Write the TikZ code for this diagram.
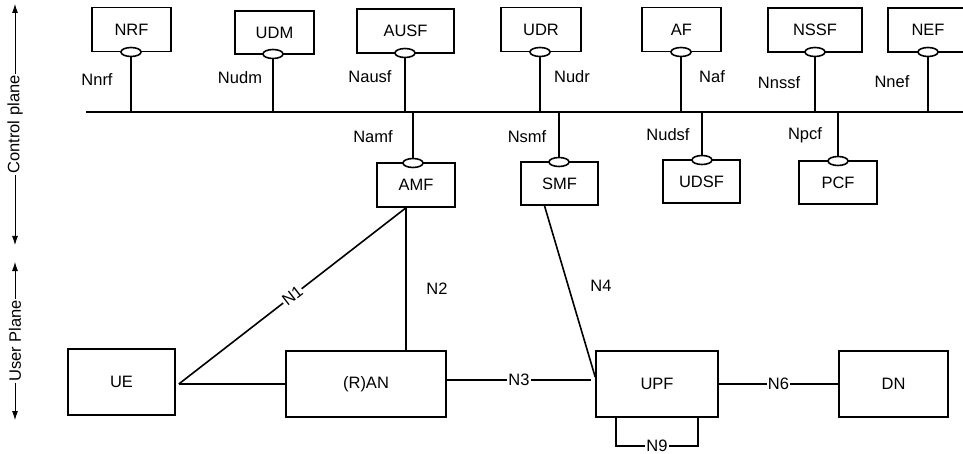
\documentclass[tikz,border=0pt]{standalone}
\usepackage{fontspec}
\setmainfont{Liberation Sans}
\usetikzlibrary{arrows.meta,calc,shapes.geometric}
\begin{document}
\begin{tikzpicture}[x=1pt,y=-1pt, line width=1.6pt,
  every node/.style={font=\fontsize{16.5}{19}\selectfont, inner sep=0pt},
  nf/.style={draw, rectangle, minimum width=#1, minimum height=44pt, line width=1.6pt},
  nf/.default=79pt,
  big/.style={draw, rectangle, minimum width=#1, minimum height=66pt, line width=1.6pt},
  port/.style={draw, ellipse, fill=white, minimum width=20pt, minimum height=9pt, line width=1.6pt},
  onl/.style={fill=white, inner sep=1pt},
  side/.style={line width=0.8pt, {Latex[length=9pt,width=6pt]}-{Latex[length=9pt,width=6pt]}}]
\useasboundingbox (0,0) rectangle (963,454);

% side arrows
\coordinate (cpT) at (15,4);
\coordinate (cpB) at (15,245);
\coordinate (upT) at (15,262);
\coordinate (upB) at (15,420);
\draw[side] (cpT) -- node[rotate=90, onl] {Control plane} (cpB);
\draw[side] (upT) -- node[rotate=90, onl] {User Plane} (upB);

% top NFs
\node[nf=79pt] (NRF) at (131.5,29.5) {NRF};
\node[nf=79pt, minimum height=43pt] (UDM) at (274.5,32.5) {UDM};
\node[nf=97pt] (AUSF) at (405.5,31) {AUSF};
\node[nf=80pt] (UDR) at (541,29.5) {UDR};
\node[nf=79pt] (AF) at (681.5,29.5) {AF};
\node[nf=94pt] (NSSF) at (815,30) {NSSF};
\node[nf=80pt] (NEF) at (928,30) {NEF};

% bus
\coordinate (busL) at (86,112);
\coordinate (busR) at (963,112);
\draw (busL) -- (busR);

% top ports
\node[port] (pNRF) at (131,52) {};
\node[port] (pUDM) at (273,54) {};
\node[port] (pAUSF) at (405,53) {};
\node[port] (pUDR) at (540,52) {};
\node[port] (pAF) at (681,52) {};
\node[port] (pNSSF) at (815,52) {};
\node[port] (pNEF) at (928,52) {};
\foreach \p in {pNRF,pUDM,pAUSF,pUDR,pAF,pNSSF,pNEF}
  \draw (\p) -- (\p |- busL);

% lower control NFs
\node[nf=78pt] (AMF) at (416,185) {AMF};
\node[nf=77pt, minimum height=43pt] (SMF) at (559.5,183.5) {SMF};
\node[nf=77pt, minimum height=43pt] (UDSF) at (701.5,181.5) {UDSF};
\node[nf=78pt, minimum height=43pt] (PCF) at (838,182.5) {PCF};
\node[port] (pAMF) at (413,163) {};
\node[port] (pSMF) at (559,162) {};
\node[port] (pUDSF) at (702,160) {};
\node[port] (pPCF) at (838,161) {};
\foreach \p in {pAMF,pSMF,pUDSF,pPCF}
  \draw (\p) -- (\p |- busL);

% interface labels
\node (lNnrf) at (97,80) {Nnrf};
\node (lNudm) at (240,78) {Nudm};
\node (lNausf) at (370,77) {Nausf};
\node (lNudr) at (572,77) {Nudr};
\node (lNaf) at (712,77) {Naf};
\node (lNnssf) at (779,83) {Nnssf};
\node (lNnef) at (892,82) {Nnef};
\node (lNamf) at (373,137) {Namf};
\node (lNsmf) at (527,137) {Nsmf};
\node (lNudsf) at (668,135) {Nudsf};
\node (lNpcf) at (805,135) {Npcf};

% user plane
\node[big=107pt] (UE) at (121.5,382) {UE};
\node[big=160pt] (RAN) at (366,384) {(R)AN};
\node[big=122pt] (UPF) at (657,384) {UPF};
\node[big=109pt] (DN) at (893.5,384) {DN};

\coordinate (amfb) at ([xshift=-10pt]AMF.south);
\coordinate (smfb) at ([xshift=-15pt]SMF.south);
\coordinate (uee) at ([xshift=3pt]UE.east |- RAN.west);

\draw (uee) -- node[sloped, onl] {N1} (amfb);
\draw (uee) -- (RAN.west);
\draw (amfb) -- (amfb |- RAN.north);
\node (lN2) at (437,289) {N2};
\draw ([yshift=4pt]RAN.east) -- node[onl] {N3} ([yshift=4pt,xshift=-4pt]UPF.west);
\draw (smfb) -- ([yshift=7pt]UPF.west);
\node (lN4) at (601,286) {N4};
\draw (UPF.east) -- node[onl] {N6} (DN.west);
\draw ([xshift=-41pt]UPF.south) -- ++(0,28) -| node[pos=0.25, onl] {N9} ([xshift=41pt]UPF.south);
\end{tikzpicture}
\end{document}
